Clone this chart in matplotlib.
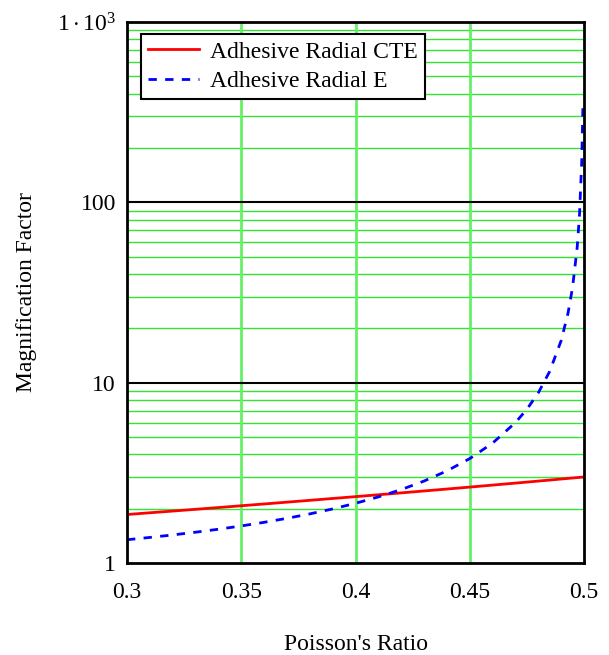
import matplotlib
matplotlib.use("Agg")
import matplotlib.pyplot as plt
from matplotlib.ticker import FixedLocator, NullFormatter

plt.rcParams['font.family'] = ['Liberation Serif', 'DejaVu Serif']
plt.rcParams['mathtext.fontset'] = 'custom'
plt.rcParams['mathtext.rm'] = 'Liberation Serif'
plt.rcParams['mathtext.it'] = 'Liberation Serif'

# Poisson's ratio samples and read values
nu_cte = [0.30, 0.31, 0.32, 0.33, 0.34, 0.35, 0.36, 0.37, 0.38, 0.39, 0.40,
          0.41, 0.42, 0.43, 0.44, 0.45, 0.46, 0.47, 0.48, 0.49, 0.50]
cte_mag = [1.857, 1.899, 1.941, 1.985, 2.030, 2.077, 2.125, 2.175, 2.226, 2.279, 2.333,
           2.390, 2.448, 2.509, 2.571, 2.636, 2.704, 2.774, 2.846, 2.922, 3.000]

nu_e = [0.30, 0.31, 0.32, 0.33, 0.34, 0.35, 0.36, 0.37, 0.38, 0.39, 0.40,
        0.41, 0.42, 0.43, 0.44, 0.45, 0.46, 0.47, 0.475, 0.48, 0.485, 0.49,
        0.493, 0.495, 0.497, 0.498, 0.499, 0.4995]
e_mag = [1.346, 1.386, 1.431, 1.482, 1.539, 1.605, 1.681, 1.769, 1.872, 1.995, 2.143,
         2.325, 2.553, 2.847, 3.241, 3.793, 4.623, 6.009, 7.119, 8.784, 11.56, 17.11,
         24.26, 33.78, 56.0, 83.8, 167.1, 334.0]

x_ticks = [0.3, 0.35, 0.4, 0.45, 0.5]
x_tick_labels = ['0.3', '0.35', '0.4', '0.45', '0.5']
y_ticks = [1, 10, 100, 1000]
y_tick_labels = ['1', '10', '100', r'$1\cdot10^{3}$']

fig = plt.figure(figsize=(6.09, 6.55), dpi=100)
ax = fig.add_axes([127/609, (655-563)/655, (584-127)/609, (563-22)/655])

ax.set_yscale('log')
ax.set_xlim(0.3, 0.5)
ax.set_ylim(1, 1000)

# grid lines
minor_vals = [m * d for d in (1, 10, 100) for m in range(2, 10)]
for v in minor_vals:
    ax.axhline(v, color='#33e533', lw=1.0, zorder=1)
for v in (10, 100):
    ax.axhline(v, color='black', lw=1.5, zorder=1.5)
for v in (0.35, 0.4, 0.45):
    ax.axvline(v, color='#66f066', lw=2.0, zorder=1)

ax.plot(nu_cte, cte_mag, color='#ff0000', lw=2.0, label='Adhesive Radial CTE', zorder=3)
ax.plot(nu_e, e_mag, color='#0000ff', lw=2.0, linestyle=(0, (3, 3)),
        label='Adhesive Radial E', zorder=3)

ax.xaxis.set_major_locator(FixedLocator(x_ticks))
ax.set_xticklabels(x_tick_labels)
ax.yaxis.set_major_locator(FixedLocator(y_ticks))
ax.yaxis.set_minor_locator(FixedLocator([]))
ax.yaxis.set_minor_formatter(NullFormatter())
ax.set_yticklabels(y_tick_labels)
ax.tick_params(axis='both', which='both', length=0, labelsize=17)
ax.tick_params(axis='x', pad=14)
ax.tick_params(axis='y', pad=8)

for s in ax.spines.values():
    s.set_linewidth(2.0)
    s.set_color('black')
    s.set_zorder(5)

ax.set_xlabel("Poisson's Ratio", fontsize=17, labelpad=22)
ax.set_ylabel("Magnification Factor", fontsize=17, labelpad=14)

leg = ax.legend(loc='upper left', bbox_to_anchor=(0.03, 0.978), fontsize=17,
                frameon=True, fancybox=False, handlelength=2.15, handletextpad=0.5,
                borderpad=0.3, labelspacing=0.35, borderaxespad=0)
leg.get_frame().set_edgecolor('black')
leg.get_frame().set_linewidth(1.5)
leg.get_frame().set_alpha(1.0)

fig.savefig('out.png', dpi=100)
